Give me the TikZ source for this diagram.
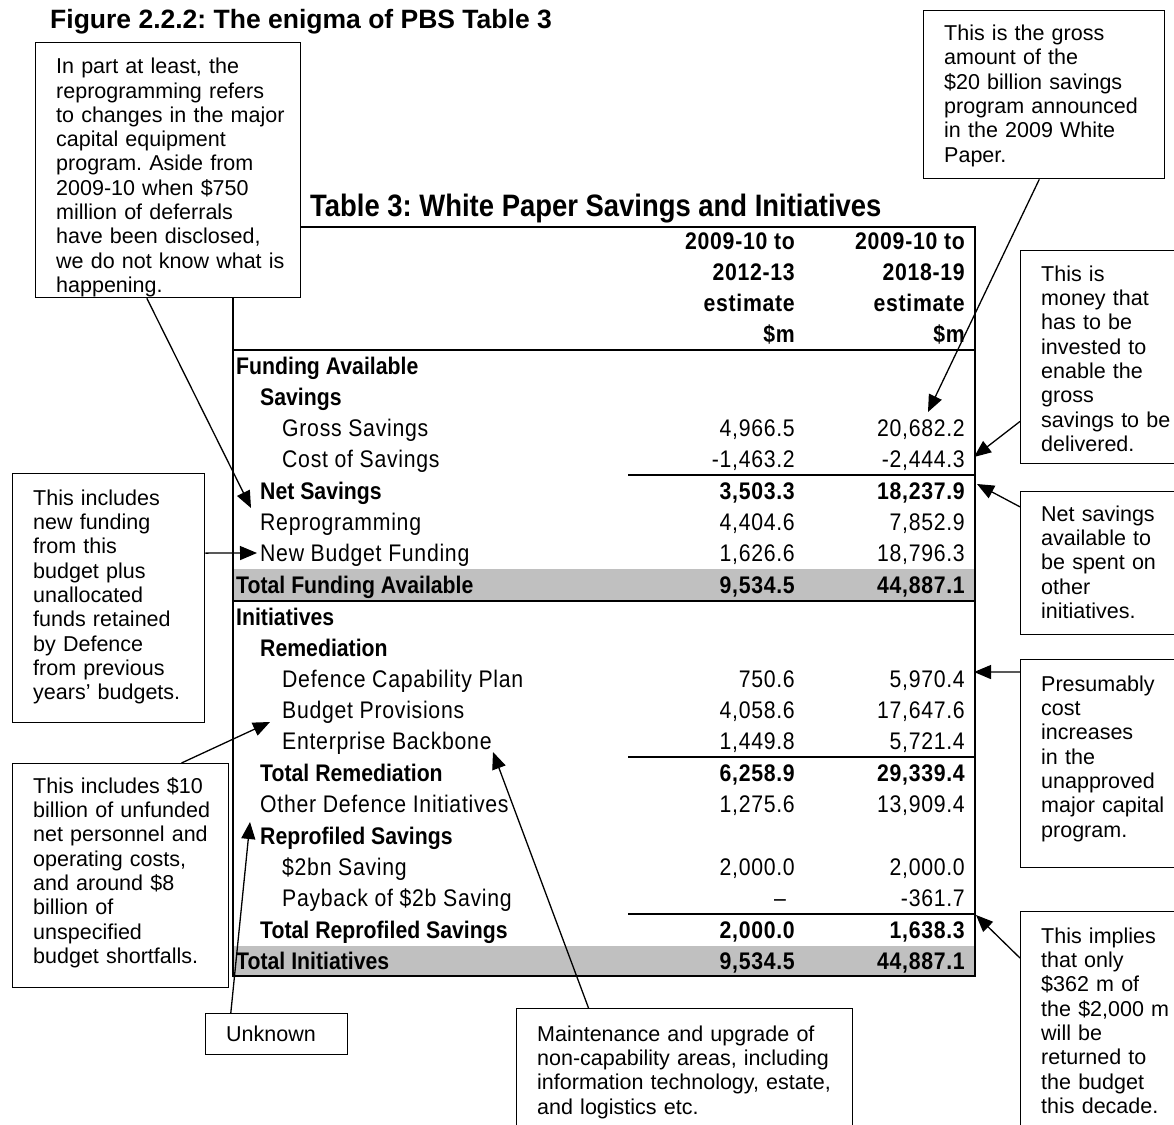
\documentclass[tikz,border=0pt]{standalone}
\usepackage{fontspec}
\setmainfont{Liberation Sans}
\newfontfamily\tblfont[FakeStretch=0.885]{Liberation Sans}
\newfontfamily\tblfontsp[FakeStretch=0.885,LetterSpace=3]{Liberation Sans}
\usetikzlibrary{arrows.meta,calc}

% table fonts
\newcommand\tabB{\tblfont\bfseries\fontsize{24}{28}\selectfont}
\newcommand\tabNB{\tblfontsp\bfseries\fontsize{24}{28}\selectfont}
\newcommand\tabR{\tblfontsp\fontsize{24}{28}\selectfont}

% bold row: name, y, x, label, value 1, value 2
\newcommand\brow[6]{%
  \node[lab,font=\tabB] (#1) at (#3,#2+8.5) {#4};
  \node[num,font=\tabNB] (#1a) at (795,#2+8.5) {#5};
  \node[num,font=\tabNB] (#1b) at (965,#2+8.5) {#6};}
% regular row
\newcommand\rrow[6]{%
  \node[lab,font=\tabR] (#1) at (#3,#2+8.5) {#4};
  \node[num,font=\tabR] (#1a) at (795,#2+8.5) {#5};
  \node[num,font=\tabR] (#1b) at (965,#2+8.5) {#6};}

% callout: name, x, y, width, height, first-baseline offset, text
\newcommand\callout[7]{%
  \node[cbox, minimum width=#4pt, minimum height=#5pt] (#1) at (#2,#3) {};
  \node[ctext, text width=#4pt-24pt] (#1t) at (#2+21,#3) {\rule{0pt}{#6pt}#7};}

\definecolor{tgrey}{RGB}{192,192,192}

\begin{document}
\frenchspacing
\begin{tikzpicture}[x=1pt,y=-1pt,
  cbox/.style={draw=black, line width=1.3pt, fill=white, inner sep=0pt, anchor=north west},
  ctext/.style={inner sep=0pt, anchor=north west, align=left, font=\fontsize{21.5}{24.3}\selectfont},
  conn/.style={line width=1.3pt, -{Triangle[length=17pt,width=14pt]}},
  lab/.style={inner sep=0pt, anchor=base west},
  num/.style={inner sep=0pt, anchor=base east},
  tline/.style={line width=2pt},
  sline/.style={line width=2pt}]
\useasboundingbox (0,0) rectangle (1174,1124);
\clip (0,0) rectangle (1174,1124);
\fill[white] (0,0) rectangle (1174,1124);

% ---------- table ----------
\fill[tgrey] (233,569) rectangle (975,600);
\fill[tgrey] (233,946) rectangle (975,976);
\draw[tline] (233,227) rectangle (975,976);
\draw[tline] (233,350) -- (975,350);
\draw[tline] (233,601) -- (975,601);
\draw[sline] (628,475) -- (975,475);
\draw[sline] (628,757) -- (975,757);
\draw[sline] (628,914) -- (975,914);

\node[lab, font=\tblfont\bfseries\fontsize{31}{36}\selectfont] (ttitle) at (310,216) {Table 3: White Paper Savings and Initiatives};

\node[num,font=\tabNB] (h1a) at (795,249.5) {2009-10 to};
\node[num,font=\tabNB] (h1b) at (965,249.5) {2009-10 to};
\node[num,font=\tabNB] (h2a) at (795,280.5) {2012-13};
\node[num,font=\tabNB] (h2b) at (965,280.5) {2018-19};
\node[num,font=\tabNB] (h3a) at (795,311.5) {estimate};
\node[num,font=\tabNB] (h3b) at (965,311.5) {estimate};
\node[num,font=\tabNB] (h4a) at (795,342.5) {\$m};
\node[num,font=\tabNB] (h4b) at (965,342.5) {\$m};

\brow{r1}{366}{236}{Funding Available}{}{}
\brow{r2}{397}{260}{Savings}{}{}
\rrow{r3}{428}{282}{Gross Savings}{4,966.5}{20,682.2}
\rrow{r4}{459}{282}{Cost of Savings}{-1,463.2}{-2,444.3}
\brow{r5}{491}{260}{Net Savings}{3,503.3}{18,237.9}
\rrow{r6}{522}{260}{Reprogramming}{4,404.6}{7,852.9}
\rrow{r7}{553}{260}{New Budget Funding}{1,626.6}{18,796.3}
\brow{r8}{585}{236}{Total Funding Available}{9,534.5}{44,887.1}
\brow{r9}{617}{236}{Initiatives}{}{}
\brow{r10}{648}{260}{Remediation}{}{}
\rrow{r11}{679}{282}{Defence Capability Plan}{750.6}{5,970.4}
\rrow{r12}{710}{282}{Budget Provisions}{4,058.6}{17,647.6}
\rrow{r13}{741}{282}{Enterprise Backbone}{1,449.8}{5,721.4}
\brow{r14}{773}{260}{Total Remediation}{6,258.9}{29,339.4}
\rrow{r15}{804}{260}{Other Defence Initiatives}{1,275.6}{13,909.4}
\brow{r16}{836}{260}{Reprofiled Savings}{}{}
\rrow{r17}{867}{282}{\$2bn Saving}{2,000.0}{2,000.0}
\rrow{r18}{898}{282}{Payback of \$2b Saving}{}{-361.7}
\node[num,font=\tblfont\fontsize{24}{28}\selectfont] (r18a) at (786,906.5) {–};
\brow{r19}{930}{260}{Total Reprofiled Savings}{2,000.0}{1,638.3}
\brow{r20}{961}{236}{Total Initiatives}{9,534.5}{44,887.1}

% ---------- figure title ----------
\node[lab, font=\bfseries\fontsize{26.5}{30}\selectfont] (ftitle) at (50,29) {Figure 2.2.2: The enigma of PBS Table 3};

% ---------- callouts ----------
\callout{cA}{35}{42}{265}{255}{31.5}{In part at least, the\\ reprogramming refers\\ to changes in the major\\ capital equipment\\ program. Aside from\\ 2009-10 when \$750\\ million of deferrals\\ have been disclosed,\\ we do not know what is\\ happening.}
\callout{cB}{923}{10}{241}{168}{30.5}{This is the gross\\ amount of the\\ \$20 billion savings\\ program announced\\ in the 2009 White\\ Paper.}
\callout{cC}{1020}{250}{170}{213}{31}{This is\\ money that\\ has to be\\ invested to\\ enable the\\ gross\\ savings to be\\ delivered.}
\callout{cD}{1020}{491}{170}{143}{30}{Net savings\\ available to\\ be spent on\\ other\\ initiatives.}
\callout{cE}{1020}{659}{170}{208}{32}{Presumably\\ cost\\ increases\\ in the\\ unapproved\\ major capital\\ program.}
\callout{cF}{1020}{911}{170}{260}{32}{This implies\\ that only\\ \$362 m of\\ the \$2,000 m\\ will be\\ returned to\\ the budget\\ this decade.}
\callout{cG}{12}{473}{192}{249}{32}{This includes\\ new funding\\ from this\\ budget plus\\ unallocated\\ funds retained\\ by Defence\\ from previous\\ years’ budgets.}
\callout{cH}{12}{763}{216}{224}{30}{This includes \$10\\ billion of unfunded\\ net personnel and\\ operating costs,\\ and around \$8\\ billion of\\ unspecified\\ budget shortfalls.}
\callout{cI}{205}{1013}{142}{41}{28}{Unknown}
\callout{cJ}{516}{1008}{336}{200}{33}{Maintenance and upgrade of\\ non-capability areas, including\\ information technology, estate,\\ and logistics etc.}

% ---------- connectors ----------
\coordinate (oA) at ($(cA.south west)!0.42!(cA.south east)$);
\coordinate (tA) at (251,508);
\coordinate (oB) at ($(cB.south west)!0.48!(cB.south east)$);
\coordinate (tB) at (928,412);
\coordinate (oC) at ($(cC.north west)!0.8!(cC.south west)$);
\coordinate (tC) at (974,457);
\coordinate (oD) at ($(cD.north west)!0.11!(cD.south west)$);
\coordinate (tD) at (977,484);
\coordinate (oE) at ($(cE.north west)!0.0625!(cE.south west)$);
\coordinate (tE) at (974,672);
\coordinate (oF) at ($(cF.north west)!0.18!(cF.south west)$);
\coordinate (tF) at (976,915);
\coordinate (oG) at ($(cG.north east)!0.32!(cG.south east)$);
\coordinate (tG) at (257,553);
\coordinate (oH) at ($(cH.north west)!0.78!(cH.north east)$);
\coordinate (tH) at (270,722);
\coordinate (oI) at ($(cI.north west)!0.18!(cI.north east)$);
\coordinate (tI) at (250,822);
\coordinate (oJ) at ($(cJ.north west)!0.215!(cJ.north east)$);
\coordinate (tJ) at (493,752);

\draw[conn] (oA) -- (tA);
\draw[conn] (oB) -- (tB);
\draw[conn] (oC) -- (tC);
\draw[conn] (oD) -- (tD);
\draw[conn] (oE) -- (tE);
\draw[conn] (oF) -- (tF);
\draw[conn] (oG) -- (tG);
\draw[conn] (oH) -- (tH);
\draw[conn] (oI) -- (tI);
\draw[conn] (oJ) -- (tJ);
\end{tikzpicture}
\end{document}
